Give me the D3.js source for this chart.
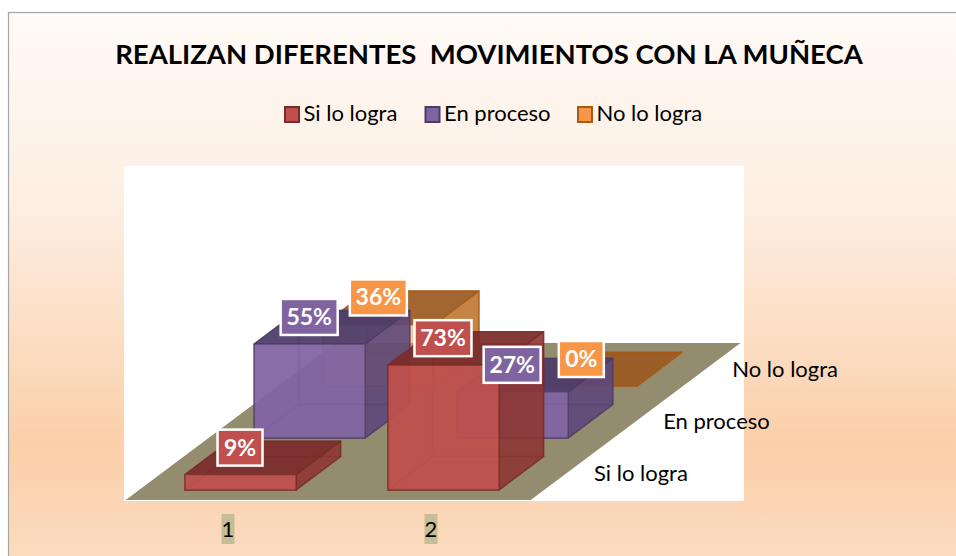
<!DOCTYPE html>
<html><head><meta charset="utf-8">
<script src="https://cdn.jsdelivr.net/npm/d3@7/dist/d3.min.js"></script>
<style>html,body{margin:0;padding:0;background:#fff}svg{display:block}text{font-family:Lato,"Open Sans",sans-serif}</style>
</head><body><div id="c"></div>
<script>
const titleText = "REALIZAN DIFERENTES  MOVIMIENTOS CON LA MUÑECA";
const categories = ["1", "2"];
const seriesNames = ["Si lo logra", "En proceso", "No lo logra"];
const siLoLogra = [9, 73];
const enProceso = [55, 27];
const noLoLogra = [36, 0];
const seriesValues = [siLoLogra, enProceso, noLoLogra];
const swatch = ["#c0504d", "#8064a2", "#f79646"];
const strokeCol = ["#772c2a", "#4d3b62", "#a75a12"];
const topCol = ["#7b2c2b", "#4c3c6b", "#9c5a24"];
const rightCol = ["#8c3533", "#5c4779", "#bd7530"];

const W = 956, H = 556;
const svg = d3.select("#c").append("svg").attr("width", W).attr("height", H);
const defs = svg.append("defs");
const g = defs.append("linearGradient").attr("id", "bg").attr("x1", 0).attr("x2", 0).attr("y1", 0).attr("y2", 1);
[[0, "#fffaf6"], [0.35, "#fdeee2"], [0.78, "#fbcfa9"], [1, "#fcdcc2"]].forEach(s => g.append("stop").attr("offset", s[0]).attr("stop-color", s[1]));

svg.append("rect").attr("x", 8.5).attr("y", 12.5).attr("width", W).attr("height", H).attr("fill", "url(#bg)").attr("stroke", "#a6a6a6").attr("stroke-width", 1.2);
svg.append("rect").attr("x", 124).attr("y", 166).attr("width", 620).attr("height", 335).attr("fill", "#fff");

svg.append("text").attr("x", 489).attr("y", 64).attr("text-anchor", "middle").attr("font-size", 27.5).attr("font-weight", 700).attr("fill", "#000").style("white-space", "pre").text(titleText);

// scales
const xCat = d3.scaleBand().domain(categories).range([185, 499]).paddingInner(0.453).paddingOuter(0).align(0);
const depth = d3.scalePoint().domain(seriesNames).range([0, 104]);
const hgt = d3.scaleLinear().domain([0, 100]).range([0, 171]);
const baseY = 490, slope = 1.33, barDepth = 33.5;
const proj = (x, d, h) => [x + d * slope, baseY - d - h];
const pts = a => a.map(p => p.join(",")).join(" ");

// floor
const floor = [proj(139, -10, 0), proj(544, -10, 0), proj(545, 147, 0), proj(140, 147, 0)];
svg.append("polygon").attr("points", pts(floor)).attr("fill", "#948c6e");

// legend
const legendX = [284, 424.5, 577];
const leg = svg.append("g");
seriesNames.forEach((s, i) => {
  leg.append("rect").attr("x", legendX[i] + 1).attr("y", 107).attr("width", 14).attr("height", 15).attr("fill", swatch[i]).attr("stroke", strokeCol[i]).attr("stroke-width", 2);
  leg.append("text").attr("x", legendX[i] + 19.5).attr("y", 121).attr("font-size", 22).attr("fill", "#000").text(s);
});

// bars, back series first
const bw = xCat.bandwidth();
const bars = svg.append("g");
const labels = [];
for (let si = seriesNames.length - 1; si >= 0; si--) {
  const sName = seriesNames[si];
  categories.forEach((c, ci) => {
    const v = seriesValues[si][ci];
    const x0 = xCat(c), x1 = x0 + bw, d0 = depth(sName), d1 = d0 + barDepth, h = hgt(v);
    const G = bars.append("g").attr("stroke", strokeCol[si]).attr("stroke-width", 1.4).attr("stroke-linejoin", "round").attr("stroke-opacity", 0.7);
    const face = (a, col, op) => G.append("polygon").attr("points", pts(a)).attr("fill", col).attr("fill-opacity", op);
    // inner faces
    face([proj(x0, d1, 0), proj(x1, d1, 0), proj(x1, d1, h), proj(x0, d1, h)], swatch[si], h ? 0.2 : 0);
    face([proj(x0, d0, 0), proj(x0, d1, 0), proj(x0, d1, h), proj(x0, d0, h)], swatch[si], h ? 0.2 : 0);
    face([proj(x0, d0, 0), proj(x1, d0, 0), proj(x1, d1, 0), proj(x0, d1, 0)], swatch[si], h ? 0.2 : 0);
    // outer faces
    if (h > 0) face([proj(x1, d0, 0), proj(x1, d1, 0), proj(x1, d1, h), proj(x1, d0, h)], rightCol[si], 0.88);
    face([proj(x0, d0, h), proj(x1, d0, h), proj(x1, d1, h), proj(x0, d1, h)], topCol[si], 0.93);
    if (h > 0) face([proj(x0, d0, 0), proj(x1, d0, 0), proj(x1, d0, h), proj(x0, d0, h)], swatch[si], si === 2 ? 0.45 : 0.93);
    labels.push({ v, si, x: (x0 + x1) / 2 - 0.5, y: proj(0, d0, h)[1] - 27, dx: d0 * slope });
  });
}

// series labels on the depth axis
seriesNames.forEach(s => {
  const p = proj(594, depth(s), 0);
  svg.append("text").attr("x", p[0]).attr("y", p[1] - 9).attr("font-size", 22).attr("fill", "#000").text(s);
});

// category labels
categories.forEach(c => {
  const cx = xCat(c) + 43;
  svg.append("rect").attr("x", cx - 6.5).attr("y", 514).attr("width", 13).attr("height", 30).attr("fill", "#c4bd97");
  svg.append("text").attr("x", cx).attr("y", 537).attr("text-anchor", "middle").attr("font-size", 22).attr("fill", "#000").text(c);
});

// data labels
const fmt = d => d + "%";
labels.sort((a, b) => b.si - a.si).forEach(l => {
  const w = String(l.v).length > 1 ? 57 : 45, cx = l.x + l.dx;
  svg.append("rect").attr("x", cx - w / 2).attr("y", l.y - 18).attr("width", w).attr("height", 36).attr("fill", swatch[l.si]).attr("stroke", "#fff").attr("stroke-width", 2.5);
  svg.append("text").attr("x", cx).attr("y", l.y + 8).attr("text-anchor", "middle").attr("font-size", 23).attr("font-weight", 700).attr("fill", "#fff").text(fmt(l.v));
});
</script></body></html>
